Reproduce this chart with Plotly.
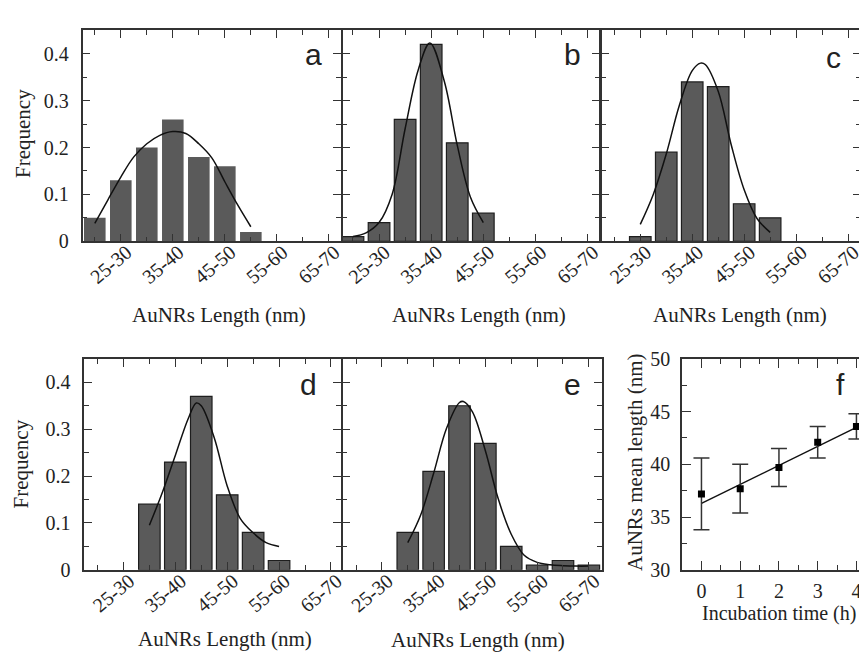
import plotly.graph_objects as go

W, H = 867, 655

# ---------------- data ----------------
bins = ["20-25", "25-30", "30-35", "35-40", "40-45", "45-50", "50-55", "55-60", "60-65", "65-70"]
bin_pos = list(range(len(bins)))
labeled_pos = [1, 3, 5, 7, 9]

# relative frequency per length bin (None = empty bin)
freq_a = [0.05, 0.13, 0.20, 0.26, 0.18, 0.16, 0.02, None, None, None]
freq_b = [0.01, 0.04, 0.26, 0.42, 0.21, 0.06, None, None, None, None]
freq_c = [None, 0.01, 0.19, 0.34, 0.33, 0.08, 0.05, None, None, None]
freq_d = [None, None, 0.14, 0.23, 0.37, 0.16, 0.08, 0.02, None, None]
freq_e = [None, None, 0.08, 0.21, 0.35, 0.27, 0.05, 0.01, 0.02, 0.01]

# fitted distribution curves (x in bin-index units)
fit_a_pos = [0, 0.5, 1, 1.5, 2, 2.5, 3, 3.5, 4, 4.5, 5, 5.5, 6]
fit_a_val = [0.038, 0.088, 0.137, 0.180, 0.208, 0.226, 0.234, 0.230, 0.208, 0.178, 0.127, 0.077, 0.031]
fit_b_pos = [0, 0.5, 1, 1.5, 2, 2.5, 2.95, 3.5, 4, 4.5, 5]
fit_b_val = [0.010, 0.018, 0.040, 0.100, 0.240, 0.365, 0.423, 0.342, 0.205, 0.095, 0.040]
fit_c_pos = [1, 1.5, 2, 2.5, 3, 3.32, 3.5, 4, 4.5, 5, 5.5, 6]
fit_c_val = [0.036, 0.100, 0.186, 0.289, 0.364, 0.380, 0.377, 0.320, 0.206, 0.110, 0.048, 0.019]
fit_d_pos = [2, 2.5, 3, 3.5, 3.81, 4, 4.5, 5, 5.5, 6, 6.5, 7]
fit_d_val = [0.095, 0.165, 0.244, 0.323, 0.356, 0.350, 0.282, 0.179, 0.110, 0.079, 0.058, 0.050]
fit_e_pos = [2, 2.5, 3, 3.5, 4, 4.15, 4.5, 5, 5.5, 6, 6.5, 7, 7.5, 8, 8.5, 9]
fit_e_val = [0.058, 0.117, 0.206, 0.302, 0.357, 0.359, 0.337, 0.254, 0.151, 0.076, 0.031, 0.016, 0.011, 0.009, 0.008, 0.008]

# panel f
incubation_h = [0, 1, 2, 3, 4]
mean_length = [37.2, 37.7, 39.7, 42.1, 43.6]
length_err = [3.4, 2.3, 1.8, 1.5, 1.2]
fit_line_t = [0, 4]
fit_line_len = [36.3, 43.5]

panel_letters = ["a", "b", "c", "d", "e", "f"]
x_title = "AuNRs Length (nm)"
y_title = "Frequency"
f_x_title = "Incubation time (h)"
f_y_title = "AuNRs mean length (nm)"

# ---------------- style ----------------
SERIF = "Liberation Serif, Times New Roman, serif"
SANS = "Liberation Sans, Arial, sans-serif"
AX = "#333333"
TXT = "#222222"
BAR = "#5a5a5a"

def xd(p0, p1):
    return [p0 / W, p1 / W]

def yd(top, bottom):
    return [1 - bottom / H, 1 - top / H]

panels = [
    dict(freq=freq_a, fx=fit_a_pos, fy=fit_a_val, xpx=(75, 335), ypx=(11.7, 230), xr=[-0.47, 9.47], outline=False, ylab=True),
    dict(freq=freq_b, fx=fit_b_pos, fy=fit_b_val, xpx=(336.5, 595), ypx=(11.7, 230), xr=[-0.40, 9.46], outline=True, ylab=False),
    dict(freq=freq_c, fx=fit_c_pos, fy=fit_c_val, xpx=(596.5, 858), ypx=(11.7, 230), xr=[-0.51, 9.5], outline=True, ylab=False),
    dict(freq=freq_d, fx=fit_d_pos, fy=fit_d_val, xpx=(76.7, 335), ypx=(351.7, 570), xr=[-0.51, 9.39], outline=True, ylab=True),
    dict(freq=freq_e, fx=fit_e_pos, fy=fit_e_val, xpx=(336.5, 597.5), ypx=(351.7, 570), xr=[-0.52, 9.51], outline=True, ylab=False),
]

fig = go.Figure()
layout = dict(
    width=W, height=H,
    margin=dict(l=0, r=0, t=0, b=0),
    paper_bgcolor="white", plot_bgcolor="white",
    showlegend=False,
    font=dict(family=SERIF, color=TXT),
)

tickfont = dict(family=SERIF, size=20, color=TXT)
xtickfont = dict(family=SERIF, size=20, color=TXT)

for n, p in enumerate(panels, start=1):
    xa = "x" if n == 1 else f"x{n}"
    ya = "y" if n == 1 else f"y{n}"
    line = dict(color="#1e1e1e", width=1.2) if p["outline"] else dict(color="white", width=0)
    fig.add_trace(go.Bar(x=bin_pos, y=p["freq"], width=0.83,
                         marker=dict(color=BAR, line=line),
                         xaxis=xa, yaxis=ya, hoverinfo="skip"))
    fig.add_trace(go.Scatter(x=p["fx"], y=p["fy"], mode="lines",
                             line=dict(color="#111111", width=1.5, shape="spline", smoothing=1),
                             xaxis=xa, yaxis=ya, hoverinfo="skip"))
    layout["xaxis" if n == 1 else f"xaxis{n}"] = dict(
        domain=xd(*p["xpx"]), range=p["xr"], anchor=ya,
        tickmode="array", tickvals=labeled_pos, ticktext=[bins[i] for i in labeled_pos],
        tickangle=-40, ticks="inside", ticklen=8, tickwidth=1.3, tickcolor=AX,
        ticklabelshift=6, ticklabelstandoff=-10,
        minor=dict(tickmode="array", tickvals=[i for i in bin_pos if i not in labeled_pos],
                   ticks="inside", ticklen=5, tickwidth=1.3, tickcolor=AX),
        showline=True, linecolor=AX, linewidth=1.5, mirror="ticks",
        showgrid=False, zeroline=False, tickfont=xtickfont, fixedrange=True,
    )
    layout["yaxis" if n == 1 else f"yaxis{n}"] = dict(
        domain=yd(*p["ypx"]), range=[0, 0.45], anchor=xa,
        tickmode="linear", tick0=0, dtick=0.1,
        ticks="inside", ticklen=8, tickwidth=1.3, tickcolor=AX,
        ticklabelstandoff=8,
        minor=dict(dtick=0.05, ticks="inside", ticklen=5, tickwidth=1.3, tickcolor=AX),
        showline=True, linecolor=AX, linewidth=1.5, mirror="ticks",
        showgrid=False, zeroline=False, showticklabels=p["ylab"], tickfont=tickfont,
        fixedrange=True,
    )

# panel f
fig.add_trace(go.Scatter(x=fit_line_t, y=fit_line_len, mode="lines",
                         line=dict(color="#111111", width=1.5),
                         xaxis="x6", yaxis="y6", hoverinfo="skip"))
fig.add_trace(go.Scatter(x=incubation_h, y=mean_length, mode="markers",
                         marker=dict(symbol="square", size=7, color="#000000"),
                         error_y=dict(type="data", array=length_err, visible=True,
                                      color=AX, thickness=1.5, width=8),
                         xaxis="x6", yaxis="y6", hoverinfo="skip"))
layout["xaxis6"] = dict(
    domain=xd(678, 867), range=[-0.5, 4.35], anchor="y6",
    tickmode="linear", tick0=0, dtick=1,
    ticks="inside", ticklen=9, tickwidth=1.3, tickcolor=AX,
    ticklabelstandoff=2,
    minor=dict(dtick=0.5, ticks="inside", ticklen=5, tickwidth=1.3, tickcolor=AX),
    showline=True, linecolor=AX, linewidth=1.5, mirror="ticks",
    showgrid=False, zeroline=False, tickfont=tickfont, fixedrange=True,
)
layout["yaxis6"] = dict(
    domain=yd(351.7, 570), range=[30, 50], anchor="x6",
    tickmode="linear", tick0=30, dtick=5,
    ticks="inside", ticklen=9, tickwidth=1.3, tickcolor=AX,
    ticklabelstandoff=6,
    minor=dict(dtick=2.5, ticks="inside", ticklen=5, tickwidth=1.3, tickcolor=AX),
    showline=True, linecolor=AX, linewidth=1.5, mirror="ticks",
    showgrid=False, zeroline=False, tickfont=tickfont, fixedrange=True,
)

# annotations (pixel positions converted to paper coords)
def ann(text, px, py, size, family, angle=0, xanchor="center", yanchor="middle"):
    return dict(text=text, x=px / W, y=1 - py / H, xref="paper", yref="paper",
                showarrow=False, font=dict(family=family, size=size, color=TXT),
                textangle=angle, xanchor=xanchor, yanchor=yanchor)

annotations = []
letter_pos = [(307, 37), (568, 37), (830, 40), (302, 378), (568, 378), (837, 378)]
for L, (px, py) in zip(panel_letters, letter_pos):
    annotations.append(ann(L, px, py, 30, SANS))

for (px, py) in [(212, 306), (474, 306), (736, 306), (218, 642), (473, 643)]:
    annotations.append(ann(x_title, px, py, 21, SERIF))
annotations.append(ann(y_title, 15, 118, 21, SERIF, angle=-90))
annotations.append(ann(y_title, 13, 460, 21, SERIF, angle=-90))
annotations.append(ann(f_x_title, 775, 615, 20, SERIF))
annotations.append(ann(f_y_title, 630, 458, 21, SERIF, angle=-90))

layout["annotations"] = annotations
fig.update_layout(**layout)
fig.write_html("out.html")
